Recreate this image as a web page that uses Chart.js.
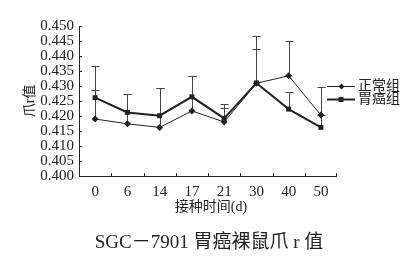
<!DOCTYPE html>
<html>
<head>
<meta charset="utf-8">
<script src="https://cdn.jsdelivr.net/npm/chart.js@4"></script>
<style>
  body { margin: 0; background: #fff; }
  #wrap { width: 408px; height: 265px; }
</style>
</head>
<body>
<div id="wrap"><canvas id="line-chart"></canvas></div>
<script>
var days = ["0", "6", "14", "17", "21", "30", "40", "50"];
var normalValues = [0.4190, 0.4174, 0.4162, 0.4217, 0.4180, 0.4309, 0.4334, 0.4203];
var normalUpper = [0.4287, 0.4272, 0.4292, 0.4333, 0.4226, 0.4422, 0.4450, 0.4296];
var cancerValues = [0.4261, 0.4212, 0.4201, 0.4264, 0.4192, 0.4310, 0.4223, 0.4162];
var cancerUpper = [0.4368, 0.4272, 0.4292, 0.4333, 0.4239, 0.4467, 0.4279, 0.4203];
var seriesNames = ["正常组", "胃癌组"];
var yTitle = "爪r值";
var xTitle = "接种时间(d)";
var caption = "SGC－7901 胃癌裸鼠爪 r 值";

var ink = "#222";
var serif = "'Liberation Serif', 'DejaVu Serif', 'Noto Sans CJK SC', serif";

// error bars, inner ticks, titles and legend
var extras = {
    id: 'extras',
    beforeDatasetsDraw: function (chart) {
        var ctx = chart.ctx;
        var x = chart.scales.x, y = chart.scales.y;
        ctx.save();
        ctx.strokeStyle = "#444";
        ctx.lineWidth = 1;
        var pairs = [[normalValues, normalUpper], [cancerValues, cancerUpper]];
        pairs.forEach(function (p) {
            for (var i = 0; i < days.length; i++) {
                var px = Math.round(x.getPixelForValue(i)) + 0.5;
                var y0 = y.getPixelForValue(p[0][i]);
                var y1 = Math.round(y.getPixelForValue(p[1][i])) + 0.5;
                ctx.beginPath();
                ctx.moveTo(px, y0);
                ctx.lineTo(px, y1);
                ctx.moveTo(px - 4, y1);
                ctx.lineTo(px + 4, y1);
                ctx.stroke();
            }
        });
        ctx.restore();
    },
    afterDraw: function (chart) {
        var ctx = chart.ctx;
        var x = chart.scales.x, y = chart.scales.y;
        var area = chart.chartArea;
        ctx.save();
        ctx.strokeStyle = ink;
        ctx.lineWidth = 1;
        // axis lines
        ctx.beginPath();
        ctx.moveTo(area.left + 0.5, area.top);
        ctx.lineTo(area.left + 0.5, area.bottom + 0.5);
        ctx.lineTo(area.right, area.bottom + 0.5);
        ctx.stroke();
        // inner ticks
        ctx.beginPath();
        y.ticks.forEach(function (t, i) {
            var py = Math.round(y.getPixelForTick(i)) + 0.5;
            ctx.moveTo(area.left, py);
            ctx.lineTo(area.left + 3, py);
        });
        for (var i = 1; i <= days.length; i++) {
            var px = Math.round((x.getPixelForValue(i - 1) + x.getPixelForValue(i)) / 2) + 0.5;
            if (i === days.length) px = Math.round(area.right) - 0.5;
            ctx.moveTo(px, area.bottom);
            ctx.lineTo(px, area.bottom - 3);
        }
        ctx.stroke();

        ctx.fillStyle = ink;
        ctx.textAlign = "center";
        ctx.textBaseline = "middle";
        ctx.font = "14px " + serif;
        ctx.fillText(xTitle, 211, 207);
        ctx.font = "19px " + serif;
        ctx.fillText(caption, 209, 243);
        ctx.save();
        ctx.translate(30, 101);
        ctx.rotate(-Math.PI / 2);
        ctx.font = "14px " + serif;
        ctx.fillText(yTitle, 0, 0);
        ctx.restore();

        // legend
        var rows = [86, 99];
        ctx.textAlign = "left";
        ctx.font = "14px " + serif;
        for (var k = 0; k < 2; k++) {
            var ly = rows[k] + 0.5;
            ctx.lineWidth = k === 0 ? 1 : 2;
            ctx.beginPath();
            ctx.moveTo(327, ly);
            ctx.lineTo(355, ly);
            ctx.stroke();
            ctx.beginPath();
            if (k === 0) {
                ctx.moveTo(341.5, ly - 3);
                ctx.lineTo(344.5, ly);
                ctx.lineTo(341.5, ly + 3);
                ctx.lineTo(338.5, ly);
                ctx.closePath();
            } else {
                ctx.rect(338.5, ly - 2.5, 5, 5);
            }
            ctx.fill();
            ctx.fillText(seriesNames[k], 358, rows[k] + 0.5);
        }
        ctx.restore();
    }
};

new Chart(document.getElementById("line-chart"), {
    type: 'line',
    data: {
        labels: days,
        datasets: [{
            label: seriesNames[0],
            data: normalValues,
            borderColor: ink,
            backgroundColor: ink,
            borderWidth: 1,
            pointStyle: 'rectRot',
            pointRadius: 3.5,
            pointBorderWidth: 0,
            tension: 0
        }, {
            label: seriesNames[1],
            data: cancerValues,
            borderColor: ink,
            backgroundColor: ink,
            borderWidth: 2,
            pointStyle: 'rect',
            pointRadius: 3.5,
            pointBorderWidth: 0,
            tension: 0
        }]
    },
    options: {
        responsive: true,
        maintainAspectRatio: false,
        animation: false,
        layout: { padding: { left: 0, right: 71, top: 26, bottom: 0 } },
        plugins: {
            legend: { display: false },
            title: { display: false },
            tooltip: { enabled: false }
        },
        scales: {
            x: {
                offset: true,
                border: { display: false },
                grid: { display: false, drawTicks: false },
                ticks: { color: ink, font: { family: serif, size: 15 }, padding: 7, maxRotation: 0 },
                afterFit: function (scale) { scale.height = 89; }
            },
            y: {
                min: 0.400,
                max: 0.450,
                border: { display: false },
                grid: { display: false, drawTicks: false },
                ticks: {
                    stepSize: 0.005,
                    autoSkip: false,
                    color: ink,
                    padding: 5,
                    font: { family: serif, size: 15 },
                    callback: function (v) { return v.toFixed(3); }
                },
                afterFit: function (scale) { scale.width = 79; }
            }
        }
    },
    plugins: [extras]
});
</script>
</body>
</html>
